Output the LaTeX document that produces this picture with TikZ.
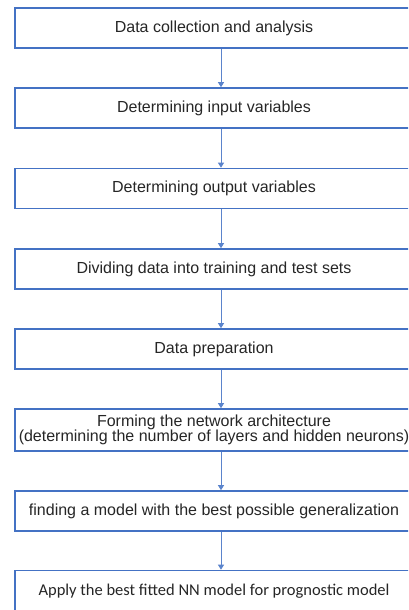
\documentclass[tikz,border=0pt]{standalone}
\usepackage{fontspec}
\setmainfont{Liberation Sans}
\newfontfamily\lastfont{Carlito}
\usetikzlibrary{arrows.meta}
\definecolor{boxblue}{HTML}{4472C4}
\definecolor{arrblue}{HTML}{5B84CC}
\definecolor{txt}{HTML}{262626}
\tikzset{
  stepbox/.style={draw=boxblue, line width=1.6pt, rectangle, minimum width=398pt, minimum height=40pt, inner sep=0pt, align=center, text=txt, font=\fontsize{16}{15}\selectfont},
  arr/.style={draw=arrblue, line width=0.9pt, -{Triangle[length=5pt,width=6pt]}}
}
\begin{document}
\begin{tikzpicture}[x=1pt,y=1pt]
\useasboundingbox (0,0) rectangle (408,-610);
\clip (0,0) rectangle (408,-610);
\fill[white] (0,0) rectangle (408,-610);
\node[stepbox] (b1) at (214,-28) {Data collection and analysis};
\node[stepbox] (b2) at (214,-108) {Determining input variables};
\node[stepbox] (b3) at (214,-188.5) {Determining output variables};
\node[stepbox] (b4) at (214,-269) {Dividing data into training and test sets};
\node[stepbox] (b5) at (214,-349) {Data preparation};
\node[stepbox, minimum height=42pt] (b6) at (214,-430) {Forming the network architecture\\(determining the number of layers and hidden neurons)};
\node[stepbox] (b7) at (214,-511) {finding a model with the best possible generalization};
\node[stepbox, minimum height=41pt, font=\lastfont\fontsize{16.5}{15}\selectfont] (b8) at (214,-591) {Apply the best fitted NN model for prognostic model};
\foreach \a/\b in {b1/b2,b2/b3,b3/b4,b4/b5,b5/b6,b6/b7,b7/b8}
  \draw[arr] ([xshift=7pt]\a.south) -- ([xshift=7pt]\b.north);
\end{tikzpicture}
\end{document}
